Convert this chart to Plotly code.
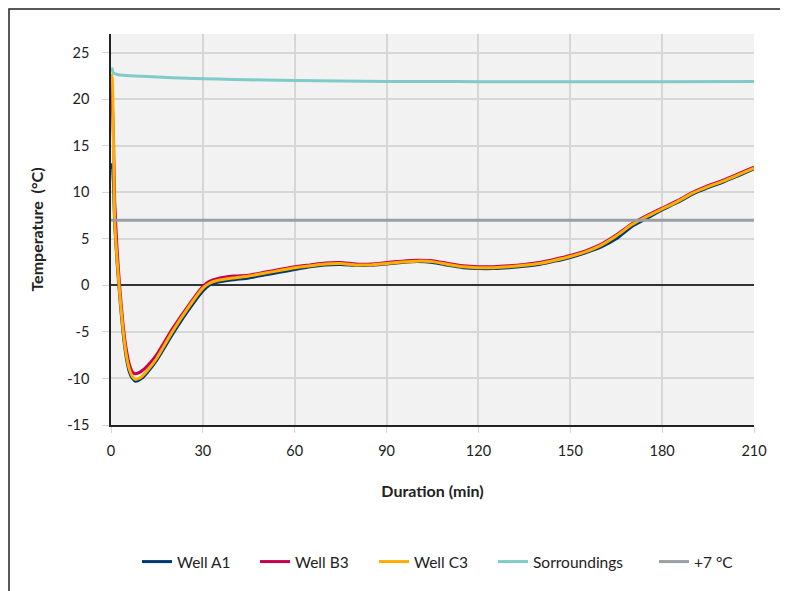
import plotly.graph_objects as go

# ---- data ----
t_well = [0, 0.4, 0.8, 1.2, 2, 3, 4, 5, 6, 7, 8, 9, 10, 12, 15, 20, 25, 30, 32, 35,
          40, 45, 50, 55, 60, 65, 70, 75, 80, 85, 90, 95, 100, 105, 110, 115, 120,
          125, 130, 135, 140, 145, 150, 155, 160, 165, 170, 175, 180, 185, 190, 195,
          200, 205, 210]
well_c3 = [22.7, 22.3, 15.0, 7.0, 2.7, -1.5, -5.0, -7.5, -9.0, -9.8, -10.1, -10.0, -9.8,
           -9.1, -7.8, -5.0, -2.5, -0.3, 0.2, 0.55, 0.8, 1.0, 1.3, 1.6, 1.9, 2.1, 2.3,
           2.35, 2.2, 2.2, 2.35, 2.5, 2.6, 2.55, 2.25, 2.0, 1.9, 1.9, 2.0, 2.15, 2.35,
           2.7, 3.1, 3.6, 4.3, 5.3, 6.5, 7.4, 8.2, 9.0, 9.9, 10.6, 11.2, 11.9, 12.6]
well_a1 = [12.5, 13.0, 11.0, 6.6, 2.4, -1.8, -5.3, -7.8, -9.3, -10.0, -10.3, -10.2, -10.0,
           -9.3, -8.0, -5.3, -2.8, -0.6, 0.0, 0.35, 0.6, 0.8, 1.1, 1.4, 1.7, 2.0, 2.2,
           2.25, 2.15, 2.15, 2.3, 2.45, 2.55, 2.45, 2.15, 1.9, 1.8, 1.8, 1.9, 2.05, 2.25,
           2.6, 3.0, 3.5, 4.1, 5.0, 6.3, 7.2, 8.1, 8.9, 9.8, 10.5, 11.1, 11.8, 12.5]
well_b3 = [22.0, 20.0, 16.0, 9.0, 3.8, -0.8, -4.4, -6.9, -8.5, -9.3, -9.5, -9.4, -9.2,
           -8.6, -7.4, -4.7, -2.3, -0.1, 0.4, 0.75, 1.0, 1.1, 1.4, 1.7, 2.0, 2.2, 2.4,
           2.45, 2.3, 2.3, 2.45, 2.6, 2.7, 2.65, 2.35, 2.1, 2.0, 2.0, 2.1, 2.25, 2.45,
           2.8, 3.2, 3.7, 4.4, 5.4, 6.6, 7.5, 8.3, 9.1, 10.0, 10.7, 11.3, 12.0, 12.7]

t_sur = [0.3, 0.6, 1, 2, 5, 10, 20, 30, 40, 50, 60, 75, 90, 105, 120, 150, 180, 210]
sur = [23.4, 22.9, 22.75, 22.65, 22.55, 22.45, 22.3, 22.2, 22.12, 22.05, 22.0, 21.95,
       21.9, 21.9, 21.88, 21.88, 21.88, 21.9]

ref_t = [0, 210]
ref_val = [7, 7]

series_names = ["Well A1", "Well B3", "Well C3", "Sorroundings", "+7 °C"]
y_ticks = [-15, -10, -5, 0, 5, 10, 15, 20, 25]
y_tick_text = ["-15", "-10", "-5", "0", "5", "10", "15", "20", "25"]
x_ticks = [0, 30, 60, 90, 120, 150, 180, 210]

FONT = "Lato"
colors = ["#003a70", "#c4004f", "#ffae00", "#7ecbc8", "#9a9fa3"]
xs = [t_well, t_well, t_well, t_sur, ref_t]
ys = [well_a1, well_b3, well_c3, sur, ref_val]

# the page body adds an 8px offset; figure coords = page coords - 8
OFF = 8
W, H = 788, 591
ml, mr, mt, mb = 111 - OFF, W - (754 - OFF), 34 - OFF, H - (425 - OFF)
pw, ph = W - ml - mr, H - mt - mb

def px_x(p):
    return (p - OFF - ml) / pw

def px_y(p):
    return (H - mb - (p - OFF)) / ph

fig = go.Figure()
legend_text_x = [177, 295, 414, 533, 694]
legend_layouts = {}
for i, (name, c, x, y) in enumerate(zip(series_names, colors, xs, ys)):
    lname = "legend" if i == 0 else f"legend{i + 1}"
    shape = "linear" if i == 4 else "spline"
    fig.add_trace(go.Scatter(x=x, y=y, name=name, mode="lines", legend=lname,
                             line=dict(color=c, width=3, shape=shape, smoothing=0.5)))
    legend_layouts[lname] = dict(orientation="h", x=px_x(legend_text_x[i] - 40),
                                 xanchor="left", y=px_y(562), yanchor="middle",
                                 font=dict(family=FONT, size=15.5, color="#222222"),
                                 bgcolor="rgba(0,0,0,0)")

fig.update_layout(
    width=W, height=H,
    margin=dict(l=ml, r=mr, t=mt, b=mb),
    paper_bgcolor="white",
    plot_bgcolor="#f2f2f2",
    font=dict(family=FONT, size=14, color="#222222"),
    showlegend=True,
    xaxis=dict(range=[0, 210], tickvals=x_ticks, showgrid=True, gridcolor="#d6d6d6",
               gridwidth=1.5, zeroline=False, showline=True, linecolor="#222222",
               linewidth=1.5, ticks="outside", ticklen=6, tickcolor="#d6d6d6",
               tickfont=dict(size=14.5), ticklabelstandoff=6,
               title=dict(text="<b>Duration (min)</b>", font=dict(size=16), standoff=28)),
    yaxis=dict(range=[-15, 27], tickvals=y_ticks, ticktext=y_tick_text, showgrid=True,
               gridcolor="#d6d6d6", gridwidth=1.5, zeroline=True, zerolinecolor="#333333",
               zerolinewidth=1.5, showline=True, linecolor="#222222", linewidth=1.5,
               ticks="outside", ticklen=7, tickcolor="#d6d6d6", tickfont=dict(size=14.5),
               ticklabelstandoff=10,
               title=dict(text="<b>Temperature  (°C)</b>", font=dict(size=16), standoff=20)),
    shapes=[dict(type="rect", xref="paper", yref="paper",
                 x0=px_x(OFF + 1), x1=px_x(800), y0=px_y(610), y1=px_y(OFF + 1),
                 line=dict(color="#222222", width=1.5), fillcolor="rgba(0,0,0,0)",
                 layer="below")],
    **legend_layouts,
)

fig.write_html("out.html")
